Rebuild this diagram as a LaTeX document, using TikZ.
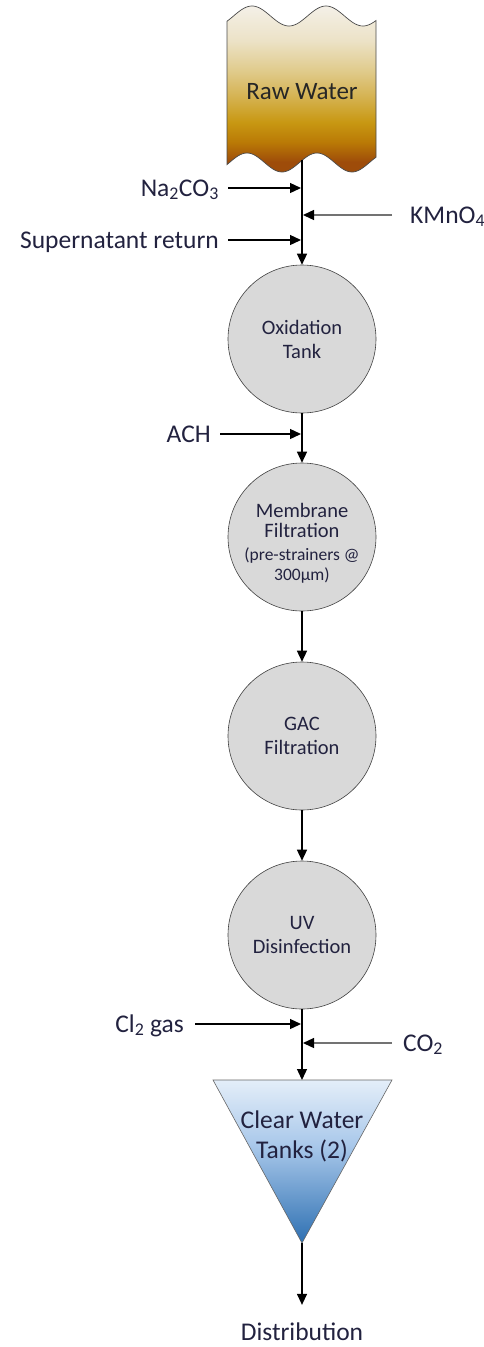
\documentclass[tikz,border=0pt]{standalone}
\usepackage{fontspec}
\setmainfont{Carlito}
\usetikzlibrary{arrows.meta}
\definecolor{txt}{HTML}{22223F}
\definecolor{procgray}{HTML}{D9D9D9}
\definecolor{rA}{HTML}{F4F0E8}
\definecolor{rB}{HTML}{ECE2C6}
\definecolor{rC}{HTML}{E0CB8C}
\definecolor{rD}{HTML}{D4B04C}
\definecolor{rE}{HTML}{C89812}
\definecolor{rF}{HTML}{BA7A06}
\definecolor{rG}{HTML}{9E4C0A}
\definecolor{tA}{HTML}{E4EEF9}
\definecolor{tB}{HTML}{A9C8EA}
\definecolor{tC}{HTML}{2E70B2}
\pgfdeclareverticalshading{rawsh}{100bp}{color(0bp)=(rG); color(25bp)=(rG); color(28bp)=(rG); color(34bp)=(rF); color(40bp)=(rE); color(47bp)=(rD); color(55.5bp)=(rC); color(64.5bp)=(rB); color(75bp)=(rA); color(100bp)=(rA)}
\pgfdeclareverticalshading{tanksh}{100bp}{color(0bp)=(tC); color(25bp)=(tC); color(55bp)=(tB); color(75bp)=(tA); color(100bp)=(tA)}
\begin{document}
\begin{tikzpicture}[x=1pt,y=-1pt,
  arr/.style={draw=black, line width=1.3pt, -{Triangle[length=11pt,width=10pt]}},
  garr/.style={draw=black!55, line width=1.3pt, -{Triangle[length=11pt,width=10pt,color=black]}},
  proc/.style={circle, minimum size=148pt, inner sep=0pt, fill=procgray, draw=black!75,
    line width=0.6pt, align=center, text=txt, font=\fontsize{20.5}{24}\selectfont},
  lbl/.style={inner sep=0pt, text=txt, font=\fontsize{25.5}{30}\selectfont}]
\useasboundingbox (0,0) rectangle (484,1347);

% Raw water (document shape)
\path[draw=black!70, line width=0.7pt, shading=rawsh]
  plot[domain=227:376, samples=80] (\x, {16-10*cos(4.8649*(\x-252))})
  -- plot[domain=376:227, samples=80] (\x, {162.5-9.5*cos(5.1429*(\x-247))}) -- cycle;
\node[inner sep=0pt, text=black!85, font=\fontsize{25}{30}\selectfont] (raw) at (302,92) {Raw Water};
\coordinate (rawout) at (302,160);

% process circles
\node[proc] (ox) at (302,339) {Oxidation\\Tank};
\node[proc] (mem) at (302,537) {\rule{0pt}{27pt}Membrane\\[-4pt]Filtration\\[-1pt]{\fontsize{17.5}{20}\selectfont(pre-strainers @}\\[-4pt]{\fontsize{17.5}{20}\selectfont 300μm)}};
\node[proc] (gac) at (302,736) {GAC\\Filtration};
\node[proc] (uv) at (302,935) {UV\\Disinfection};

% clear water tanks
\coordinate (tl) at (213,1080);
\coordinate (tr) at (392,1080);
\coordinate (tap) at (302,1243);
\coordinate (ttop) at (302,1080);
\path[draw=black!60, line width=0.6pt, shading=tanksh] (tl) -- (tr) -- (tap) -- cycle;
\node[align=center, inner sep=0pt, text=txt, font=\fontsize{25.5}{30}\selectfont] (tank) at (302,1136) {Clear Water\\Tanks (2)};

\node[lbl] (dist) at (302,1332) {Distribution};

% main flow
\draw[arr] (rawout) -- (ox.north);
\draw[arr] (ox.south) -- (mem.north);
\draw[arr] (mem.south) -- (gac.north);
\draw[arr] (gac.south) -- (uv.north);
\draw[arr] (uv.south) -- (ttop);
\draw[arr, shorten >=18pt] (tap) -- (dist.north);

% chemical feeds
\node[lbl, anchor=base east] (na) at (219,196) {Na\textsubscript{2}CO\textsubscript{3}};
\coordinate (naS) at (228,188); \coordinate (naE) at (301,188);
\draw[arr] (naS) -- (naE);

\node[lbl, anchor=base west] (km) at (410,223) {KMnO\textsubscript{4}};
\coordinate (kmS) at (392,215); \coordinate (kmE) at (303,215);
\draw[garr] (kmS) -- (kmE);

\node[lbl, anchor=base east] (sup) at (219,248) {Supernatant return};
\coordinate (supS) at (228,240); \coordinate (supE) at (301,240);
\draw[arr] (supS) -- (supE);

\node[lbl, anchor=base east] (ach) at (211,442) {ACH};
\coordinate (achS) at (220,434); \coordinate (achE) at (301,434);
\draw[arr] (achS) -- (achE);

\node[lbl, anchor=base east] (cl) at (184,1032) {Cl\textsubscript{2} gas};
\coordinate (clS) at (195,1024); \coordinate (clE) at (301,1024);
\draw[arr] (clS) -- (clE);

\node[lbl, anchor=base west] (co) at (403,1051) {CO\textsubscript{2}};
\coordinate (coS) at (392,1043); \coordinate (coE) at (303,1043);
\draw[garr] (coS) -- (coE);
\end{tikzpicture}
\end{document}
